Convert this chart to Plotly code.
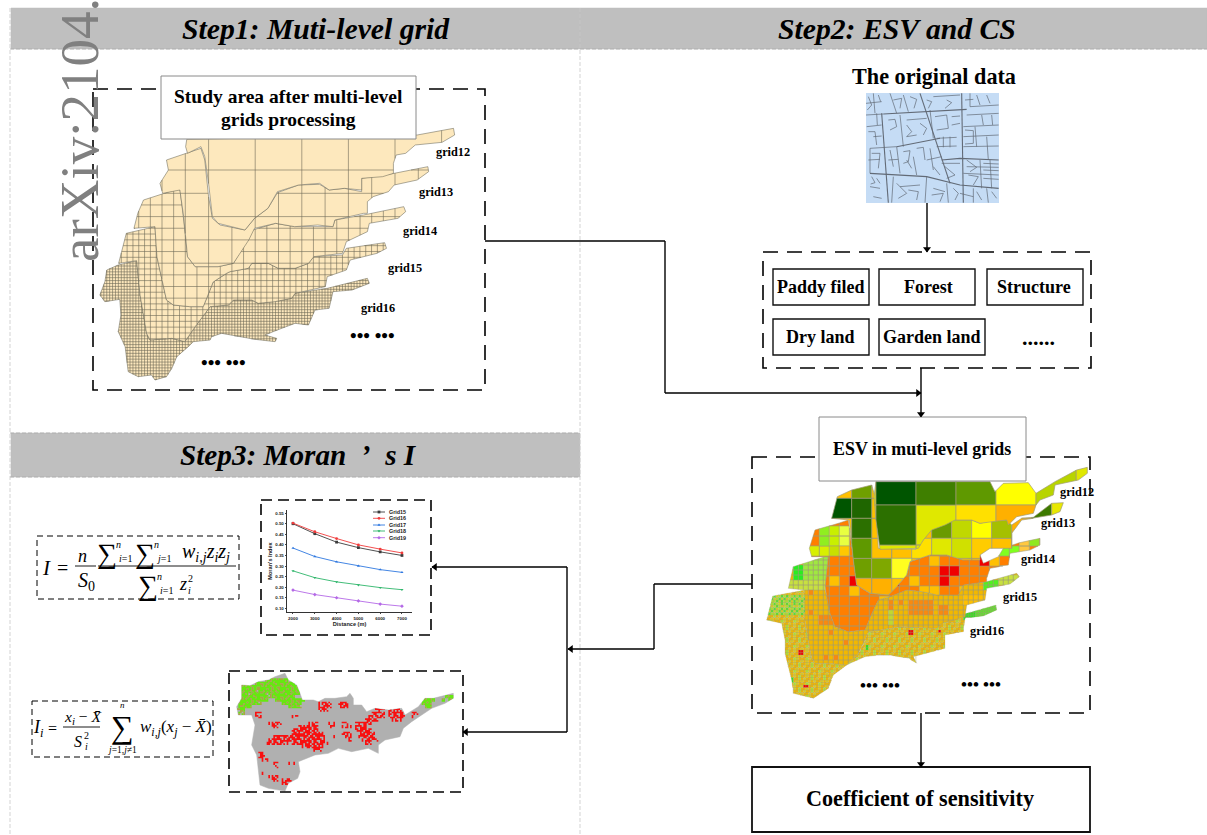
import plotly.graph_objects as go

# ---------- inset line chart data ----------
DISTANCE = [2000, 3000, 4000, 5000, 6000, 7000]
GRID15 = [0.500, 0.453, 0.413, 0.387, 0.367, 0.350]
GRID16 = [0.503, 0.462, 0.430, 0.400, 0.380, 0.362]
GRID17 = [0.385, 0.345, 0.320, 0.300, 0.283, 0.270]
GRID18 = [0.277, 0.245, 0.225, 0.210, 0.198, 0.188]
GRID19 = [0.186, 0.165, 0.150, 0.135, 0.120, 0.110]
SERIES_NAMES = ["Grid15", "Grid16", "Grid17", "Grid18", "Grid19"]
SERIES_VALUES = [GRID15, GRID16, GRID17, GRID18, GRID19]
SERIES_COLORS = ["#3c3c3c", "#f03c3c", "#2f78e0", "#2eb56a", "#b469e6"]
SERIES_SYMBOLS = ["square", "circle", "triangle-up", "triangle-down", "diamond"]
Y_TICKS = [0.10, 0.15, 0.20, 0.25, 0.30, 0.35, 0.40, 0.45, 0.50, 0.55]

W, H = 1207, 835
SERIF = "Liberation Serif"
SANS = "Liberation Sans"

# ---------- map 1 zones (outline, coarsest last) ----------
M1 = {
 12: [(488,418),(1090,405),(1185,385),(1188,405),(1155,427),(1085,435),(1060,460),(1035,465),(1028,490),(1028,520),(1000,530),(945,535),(945,570),(900,565),(860,570),(835,550),(780,555),(725,575),(700,625),(665,655),(640,690),(570,670),(555,650),(545,550),(535,470),(525,440),(490,460),(485,440)],
 13: [(435,480),(525,445),(535,480),(545,590),(555,655),(575,675),(640,690),(665,655),(700,625),(725,578),(780,555),(835,553),(860,570),(900,565),(945,575),(945,535),(1030,520),(1118,500),(1120,515),(1090,540),(1030,555),(1015,575),(975,590),(960,605),(960,640),(950,640),(875,660),(870,680),(830,675),(770,680),(720,670),(665,685),(650,720),(610,790),(570,800),(510,800),(490,770),(480,650),(470,570),(425,580),(418,550),(440,510)],
 14: [(375,600),(470,565),(480,660),(490,770),(510,800),(570,800),(610,790),(660,690),(720,670),(770,680),(870,680),(875,660),(950,645),(1055,620),(1060,635),(1040,655),(965,670),(960,695),(905,725),(895,760),(820,770),(806,790),(771,805),(727,805),(701,790),(658,790),(649,805),(601,815),(592,820),(557,846),(540,895),(531,920),(496,920),(453,915),(435,900),(427,855),(410,770),(405,680),(350,685),(360,640)],
 15: [(330,700),(405,680),(410,770),(427,855),(435,900),(453,915),(496,920),(531,920),(540,895),(557,846),(592,820),(601,815),(649,805),(658,790),(701,790),(727,805),(771,805),(806,790),(820,770),(895,765),(905,745),(1005,728),(1010,745),(985,760),(915,780),(905,810),(855,830),(850,860),(771,880),(762,895),(718,905),(675,910),(658,900),(610,900),(597,915),(549,920),(510,980),(483,1025),(449,1015),(392,1020),(383,1000),(366,885),(357,782),(310,790)],
 16: [(279,810),(309,795),(357,782),(366,885),(383,1000),(392,1020),(449,1015),(483,1025),(510,980),(549,920),(597,915),(610,900),(658,900),(675,910),(718,905),(762,895),(771,880),(855,865),(960,835),(965,850),(920,870),(870,875),(860,925),(823,930),(806,975),(771,970),(736,985),(692,1005),(723,1015),(719,1025),(666,1018),(623,1010),(579,1000),(553,1010),(549,1020),(505,1025),(492,1040),(462,1070),(449,1105),(435,1130),(405,1140),(396,1125),(361,1130),(335,1115),(327,1040),(309,995),(316,945),(313,898),(274,905),(261,885),(274,845)],
}
M1_PITCH = {12: 46.6, 13: 23.3, 14: 11.65, 15: 5.82, 16: 2.91}
M1_ANCHOR = (208.6, 170.0)

# ---------- map 2 zones ----------
M2 = {
 12: [(378,65),(720,65),(735,95),(760,70),(835,68),(858,100),(915,65),(980,30),(1012,22),(1012,40),(985,60),(915,75),(910,105),(870,120),(858,135),(850,160),(800,170),(775,195),(770,180),(725,185),(690,190),(665,180),(615,180),(585,195),(545,210),(520,240),(505,265),(390,268),(378,180),(372,110)],
 13: [(245,175),(262,110),(305,90),(365,75),(375,110),(385,265),(498,268),(520,240),(545,205),(610,180),(665,180),(690,190),(725,182),(770,180),(785,195),(815,175),(850,172),(905,130),(940,128),(930,155),(905,165),(850,175),(815,180),(785,220),(785,265),(720,265),(690,285),(690,300),(640,300),(590,285),(540,285),(480,305),(470,345),(440,380),(415,405),(360,400),(320,375),(310,300),(298,180)],
 14: [(195,210),(265,190),(295,180),(310,300),(320,375),(360,400),(415,405),(440,380),(470,345),(480,305),(540,285),(590,285),(640,300),(690,285),(700,310),(745,290),(760,265),(800,250),(870,235),(870,255),(840,270),(780,280),(775,315),(720,325),(710,355),(710,365),(640,375),(625,405),(560,405),(520,395),(470,390),(420,410),(385,420),(370,450),(345,510),(295,515),(255,500),(240,460),(225,385),(235,290),(185,290),(178,265)],
 15: [(115,385),(130,320),(225,290),(235,290),(225,385),(240,460),(255,500),(295,515),(345,510),(370,450),(385,420),(420,410),(470,390),(520,395),(560,405),(625,405),(640,375),(710,365),(800,340),(808,350),(780,372),(710,385),(705,420),(650,435),(645,470),(575,490),(560,505),(450,500),(390,510),(355,515),(345,540),(325,580),(290,615),(240,610),(195,610),(185,595),(165,485),(165,390)],
 16: [(50,480),(68,408),(165,390),(165,485),(185,595),(195,610),(240,610),(290,615),(325,580),(345,540),(355,515),(390,510),(450,500),(560,505),(580,475),(650,460),(738,435),(740,450),(700,468),(645,475),(640,515),(585,525),(585,565),(490,590),(500,610),(475,595),(415,585),(395,585),(345,590),(290,615),(250,645),(235,685),(190,715),(130,700),(125,660),(105,580),(105,540),(95,490)],
}
M2_GRID = {12: (120, 378, 135), 13: (60, 245, 115), 14: (30, 568, 318), 15: (15, 565, 390), 16: (7.5, 565, 390)}
M2_DEFAULT = {12: "#e0e800", 13: "#ffc000", 14: "#ff7f00", 15: "#f2b800", 16: "TILE_A"}
M2_STROKE = {12: 0.7, 13: 0.7, 14: 0.55, 15: 0.4, 16: 0.22}
TILE_A = ["oyoog", "yooyo", "oogyo", "yoyoo", "ooyog"]
TILE_B = ["gylgl", "lgyyg", "yglgl", "glyly", "lylgg"]
TILE_COLORS = {"o": "#f2b800", "y": "#dcd020", "g": "#b0e030", "l": "#58e030"}
ORANGE = "#f88a10"
M2_RULES = {
 12: [(378,60,498,135,"#005500"),(498,60,618,135,"#3f7f00"),(618,60,738,135,"#5f9900"),(738,60,860,135,"#ffff00"),
      (378,135,498,270,"#2c7000"),(498,135,618,270,"#e0e800"),(618,135,738,270,"#ffe000"),(738,135,860,200,"#ffb000"),
      (860,20,980,125,"#b8d400"),(980,20,1020,60,"#ffa500")],
 13: [(245,115,305,175,"#005500"),(305,60,365,115,"#6f9f00"),(305,115,365,175,"#1f6600"),(365,60,385,135,"#5f9900"),(365,135,380,190,"#ff4000"),
      (245,175,305,190,"#ff9000"),(305,175,365,240,"#2c7000"),(365,175,390,240,"#1f6600"),(305,240,365,305,"#5f9900"),(365,240,395,305,"#7aa800"),
      (305,305,365,380,"#6f9f00"),(365,305,425,380,"#7fa800"),(425,305,480,380,"#ffff20"),(320,375,420,410,"#ffb000"),
      (545,195,605,240,"#6a9a00"),(605,175,665,240,"#c0d800"),(665,175,725,240,"#ffff00"),(725,175,785,240,"#a5c000"),
      (505,240,545,290,"#ffe000"),(545,240,605,290,"#e0e800"),(605,240,665,290,"#d0e000"),(665,240,725,290,"#ffcc00"),(725,240,790,265,"#ffa020"),
      (785,175,850,225,"#ffb000"),(850,125,905,180,"#3d7a00"),(905,125,945,170,"#e8e800"),(395,268,500,305,"#ffc000")],
 14: [(195,205,235,250,"#90ee20"),(235,205,265,250,"#c8f000"),(265,185,300,250,"#e8ff40"),(175,250,235,292,"#d8f000"),(235,250,265,288,"#c8e000"),(265,250,300,292,"#ffc800"),
      (568,318,628,348,"#f00000"),(568,348,598,380,"#f00000"),(298,348,318,380,"#f00000"),(690,280,720,318,"#f00000"),(425,348,448,380,"#f00000"),
      (238,348,268,378,"#ffc000"),(478,348,508,378,"#ffc000"),(298,378,328,408,"#ffc000"),(628,378,650,405,"#ffc000"),(540,285,568,318,"#ffc000"),
      (388,408,418,450,"#ffc000"),(508,378,568,408,"#ffc000"),(718,285,748,318,"#ffc000"),
      (760,250,808,282,"#80ff20"),(808,240,838,282,"#ffc840"),(838,232,875,272,"#90e820")],
 15: [(130,310,160,365,"#28ee20"),(160,288,232,360,"#a0e840"),(110,360,232,392,"#c8e040"),
      (170,390,190,405,ORANGE),(415,420,430,450,ORANGE),(475,420,545,465,ORANGE),(445,420,460,435,ORANGE),(415,450,430,490,"#c0d830"),
      (175,450,190,465,ORANGE),(205,465,250,495,ORANGE),(235,515,250,530,ORANGE),(280,535,295,550,ORANGE),(220,585,235,600,ORANGE),(250,585,265,600,ORANGE),
      (560,440,600,460,ORANGE),(700,360,745,388,"#50f020"),(745,340,810,375,"#c8e040"),(640,400,710,440,"#ffc000")],
 16: [(50,405,165,465,"TILE_B"),(640,450,680,482,"#30e020"),(680,435,745,472,"#60e030"),(148,570,160,586,"#f00000"),(476,508,490,526,"#f00000"),
      (310,558,324,572,"#f00000"),(566,508,576,518,"#f00000"),(163,673,173,683,"#f00000"),(348,558,358,570,"#30e020"),(120,655,130,665,"#30e020")],
}

# ---------- map 3: outline and hand-read overlay cells (row, column, text) ----------
M3_OUTLINE = [(50,60),(75,62),(100,50),(130,45),(150,35),(180,25),(190,45),(215,60),(225,85),(232,105),(265,105),(280,110),(300,100),(330,100),(365,95),(375,85),(385,100),(385,120),(410,120),(425,140),(450,130),(490,135),(530,130),(540,150),(580,125),(600,100),(625,100),(685,85),(685,100),(660,115),(620,130),(590,150),(560,170),(535,190),(525,215),(480,225),(460,240),(460,265),(430,250),(380,260),(340,250),(310,265),(270,270),(220,290),(225,320),(218,340),(190,355),(180,378),(165,375),(130,370),(105,360),(100,320),(95,270),(80,240),(90,180),(80,150),(40,150),(35,125),(50,100)]
M3_CELLS = [(4,12,"ggggggg"),(5,9,"gggggggggggg"),(6,5,"ggggggggggggggggg"),(7,5,"ggggyggggggggggggg"),(8,5,"ggyggggygggggggggg"),(9,4,"gggggggggyggggggg"),(10,4,"ggggggggg"),(10,15,"ggggggggg"),(11,4,"ggggggy"),(11,17,"gggggg"),(12,4,"gggg"),(12,19,"gggy"),(13,3,"yyg"),(14,4,"yy"),
 (9,66,"ggg"),(10,59,"gggg"),(10,65,"g gg"),(11,59,"ggg"),(12,60,"gg"),
 (11,28,"prrp"),(12,28,"rrrp"),(13,28,"prp"),(11,34,"rrr"),(12,34,"prr"),(13,45,"prp"),(13,49,"rprp"),(14,44,"rrpr"),(14,49,"rrrrp"),(15,43,"rprrp"),(15,49,"prrrr"),(16,42,"rrrr"),(16,50,"prp"),(14,9,"rp"),(15,9,"pr"),(17,13,"prrp"),(18,14,"rp"),(15,20,"pp"),(14,56,"rp"),(15,56,"p"),
 (17,25,"prp"),(18,22,"rrrrrr"),(17,31,"pp"),(18,31,"pp"),(19,20,"rrrrrrrr"),(18,39,"rrrp"),(19,39,"rrrrr"),(17,39,"prrrr"),(17,35,"pp"),(18,35,"prp"),(20,20,"rrrrrrrrrp"),(20,35,"rrp"),(20,40,"prrrr"),(21,14,"prrrrr"),(21,20,"rrrrrrrrrr"),(21,32,"p"),(21,36,"rr"),(21,40,"rrrrr"),(22,13,"rrrrrrrrrrrrrrrrr"),(22,37,"r"),(22,41,"prrpp"),(23,12,"prrrrpp"),(23,20,"rrrrrrrrrrp"),(23,42,"rp"),(24,23,"prrrrrp"),(25,26,"ppp"),
 (26,10,"rp"),(27,10,"rr"),(28,11,"pr"),(29,14,"pp"),(30,15,"p"),(29,19,"pp"),(33,13,"prr"),(34,14,"rp"),(34,17,"prr"),(35,17,"rr"),(32,11,"p")]
# each overlay cell is four small squares; "." leaves the grey ground showing
M3_SUB = {"r": ["rrr.", "r.rr", "rr.r", ".rrr"], "p": ["r..r", ".r.r", "rr..", "r.r."], "g": ["gggy", "gygg", "ggyg", "yggg"], "y": ["yg.y", "y.gy", "gyy.", ".ygy"]}
M3_ORDER = [[2, 0, 3, 1, 1, 3], [0, 3, 1, 2, 0, 2], [3, 1, 2, 0, 2, 3], [1, 0, 3, 2, 3, 0]]
M3_COLORS = {"r": "#f81010", "g": "#66e810", "y": "#a8a840"}

# ---------- street map segments ----------
MAJOR_STREETS = 7
STREETS = [[(370,162),(620,148)],[(330,340),(500,350),(600,375),(716,385)],[(365,160),(385,428)],[(480,100),(545,300),(570,370)],[(605,100),(610,428)],
 [(545,300),(600,295),(716,300)],[(410,260),(540,235)],[(330,265),(410,260)],[(320,200),(365,195)],[(610,200),(716,195)],[(610,230),(716,225)],[(610,260),(716,258)],
 [(610,340),(716,345)],[(660,300),(665,385)],[(690,300),(695,385)],[(630,100),(630,140)],[(390,100),(410,160)],[(420,165),(430,260)],[(340,100),(345,160)],
 [(530,235),(590,232)],[(530,260),(590,258)],[(550,230),(550,262)],[(570,230),(570,262)],[(400,350),(395,428)],[(500,350),(495,428)],[(560,370),(565,428)],
 [(640,385),(640,428)],[(680,385),(685,428)],[(330,340),(330,265)],[(410,260),(420,340)],[(460,290),(470,345)],[(545,310),(600,310)],[(500,300),(545,290)],
 [(318,130),(365,125)],[(318,165),(370,162)],[(430,105),(445,155)],[(520,110),(600,105)],[(510,150),(520,235)],[(620,165),(716,160)],[(440,180),(500,175)],
 [(340,230),(365,228)],[(645,200),(650,260)],[(680,230),(685,300)],[(620,320),(716,322)],[(440,300),(455,325)],[(330,380),(360,385)],[(340,410),(365,415)],
 [(420,380),(480,375)],[(520,385),(555,395)],[(600,400),(640,410)],[(350,160),(352,195)],[(630,140),(716,135)],[(385,300),(415,298)],
 [(325,110),(335,135),(322,150)],[(355,105),(362,125)],[(400,120),(425,115),(420,145)],[(450,110),(470,118),(462,145)],[(500,120),(515,125),(505,145)],[(560,120),(575,128),(555,145)],
 [(385,180),(405,178),(410,200),(390,210)],[(440,195),(455,215),(440,230),(470,225)],[(480,190),(500,205),(490,225)],[(525,170),(560,165),(565,205),(530,210)],[(575,170),(600,168)],[(575,195),(600,190)],
 [(325,215),(345,215),(350,255)],[(335,280),(360,280),(355,325)],[(325,300),(360,298)],[(390,270),(400,320)],[(430,275),(450,272),(445,305),(430,310)],[(470,265),(490,262),(495,300)],[(510,265),(520,330)],
 [(520,320),(540,345)],[(555,320),(585,345),(560,355)],[(620,300),(650,322),(630,335)],[(625,345),(655,350),(640,375)],[(615,210),(640,212),(640,250),(615,252)],[(665,165),(670,195)],[(695,165),(698,195)],
 [(335,350),(345,368),(332,372)],[(350,355),(360,370)],[(410,370),(440,400),(415,415)],[(445,390),(475,395),(470,420)],[(515,405),(550,400),(540,425)],[(580,385),(595,400),(585,420)],[(650,395),(665,420)],[(695,395),(710,415)],
 [(670,310),(716,312)],[(670,330),(716,332)],[(670,355),(716,358)],[(615,120),(640,118)],[(650,105),(660,135)],[(680,105),(690,130)]]

TEXTS = [
 (316,29,"<b><i>Step1: Muti-level grid</i></b>",29.7),(897,29,"<b><i>Step2: ESV and CS</i></b>",29.7),(298,455,"<b><i>Step3: Moran \u00a0’\u00a0 s I</i></b>",29.2),
 (288,96,"<b>Study area after multi-level</b>",19.5),(288,119,"<b>grids processing</b>",19.5),
 (453,152,"<b>grid12</b>",12.3),(436,192,"<b>grid13</b>",12.3),(420,231,"<b>grid14</b>",12.3),(405,268,"<b>grid15</b>",12.3),(378,308,"<b>grid16</b>",12.3),
 (372,335,"<b>••• •••</b>",19),(223,362,"<b>••• •••</b>",19),
 (934,76,"<b>The original data</b>",22.2),
 (821,287,"<b>Paddy filed</b>",18),(928,287,"<b>Forest</b>",18),(1034,287,"<b>Structure</b>",18),(820,337,"<b>Dry land</b>",18),(932,337,"<b>Garden land</b>",18),(1038,337,"<b>......</b>",22),
 (922,449,"<b>ESV in muti-level grids</b>",17.9),(920,798,"<b>Coefficient of sensitivity</b>",22.2),
 (1077,492,"<b>grid12</b>",12.3),(1058,523,"<b>grid13</b>",12.3),(1038,559,"<b>grid14</b>",12.3),(1020,597,"<b>grid15</b>",12.3),(987,631,"<b>grid16</b>",12.3),
 (880,685,"<b>••• •••</b>",17),(981,684,"<b>••• •••</b>",17),
 # equation 1
 (46,568,"<i>I</i>",21),(62,568,"=",20),(82,556,"<i>n</i>",18),(86,581,"<i>S</i><sub>0</sub>",20),
 (107,553,"∑",28),(118,544,"<i>n</i>",10),(125,558,"<i>i</i>=1",10),(145,553,"∑",28),(156,544,"<i>n</i>",10),(163,558,"<i>j</i>=1",10),
 (206,552,"<i>w</i><sub><i>i,j</i></sub><i>z</i><sub><i>i</i></sub><i>z</i><sub><i>j</i></sub>",20),
 (148,585,"∑",28),(159,576,"<i>n</i>",10),(166,590,"<i>i</i>=1",10),(183,584,"<i>z</i>",18),(190,578,"2",10),(189,590,"<i>i</i>",10),
 # equation 2
 (38,728,"<i>I</i><sub><i>i</i></sub>",18),(52,728,"=",16),(82,717,"<i>x</i><sub><i>i</i></sub> − <i>X̄</i>",15.5),(78,741,"<i>S</i>",16),(86,735,"2",10),(86,746,"<i>i</i>",10),
 (122,727,"∑",32),(122,705,"<i>n</i>",9),(122,750,"<i>j</i>=1,<i>j</i>≠1",9.5),(176,728,"<i>w</i><sub><i>i,j</i></sub>(<i>x</i><sub><i>j</i></sub> − <i>X̄</i>)",17),
]


def clip_rect(poly, x0, y0, x1, y1):
    """Sutherland-Hodgman clip of a polygon to a rectangle."""
    out = list(poly)
    for inside, cross in (
        (lambda p: p[0] >= x0, lambda a, b: (x0, a[1] + (b[1]-a[1])*(x0-a[0])/(b[0]-a[0]))),
        (lambda p: p[0] <= x1, lambda a, b: (x1, a[1] + (b[1]-a[1])*(x1-a[0])/(b[0]-a[0]))),
        (lambda p: p[1] >= y0, lambda a, b: (a[0] + (b[0]-a[0])*(y0-a[1])/(b[1]-a[1]), y0)),
        (lambda p: p[1] <= y1, lambda a, b: (a[0] + (b[0]-a[0])*(y1-a[1])/(b[1]-a[1]), y1)),
    ):
        src, out = out, []
        for k, cur in enumerate(src):
            prev = src[k-1]
            if inside(cur):
                if not inside(prev):
                    out.append(cross(prev, cur))
                out.append(cur)
            elif inside(prev):
                out.append(cross(prev, cur))
        if not out:
            return []
    return out


def scan(poly, value, axis):
    """Segments of the line coordinate[axis]=value lying inside the polygon."""
    hits = []
    n = len(poly)
    for k in range(n):
        a, b = poly[k], poly[(k+1) % n]
        if (a[axis] <= value) != (b[axis] <= value):
            t = (value-a[axis])/(b[axis]-a[axis])
            hits.append(a[1-axis] + t*(b[1-axis]-a[1-axis]))
    hits.sort()
    return [(hits[k], hits[k+1]) for k in range(0, len(hits)-1, 2)]


fig = go.Figure()


def area(xs, ys, fill, line="rgba(0,0,0,0)", width=0.5):
    fig.add_trace(go.Scatter(x=xs, y=ys, mode="lines", fill="toself", fillcolor=fill,
                             line=dict(color=line, width=width), hoverinfo="skip", showlegend=False))


def closed(poly):
    return [p[0] for p in poly]+[poly[0][0]], [p[1] for p in poly]+[poly[0][1]]


shapes = []


def rect(x0, y0, x1, y1, fill="rgba(0,0,0,0)", line="#000", width=1, dash="solid", layer="above"):
    shapes.append(dict(type="rect", x0=x0, y0=y0, x1=x1, y1=y1, fillcolor=fill, layer=layer,
                       line=dict(color=line, width=width, dash=dash), xref="x", yref="y"))


def line(x0, y0, x1, y1, color="#000", width=1.4, dash="solid", layer="above"):
    shapes.append(dict(type="line", x0=x0, y0=y0, x1=x1, y1=y1, layer=layer,
                       line=dict(color=color, width=width, dash=dash), xref="x", yref="y"))


rect(11, 8, 580, 49, fill="#bfbfbf", line="#bfbfbf", width=0.5, layer="below")
rect(580, 8, 1207, 49, fill="#bfbfbf", line="#bfbfbf", width=0.5, layer="below")
rect(11, 433, 580, 477, fill="#bfbfbf", line="#bfbfbf", width=0.5, layer="below")
LIGHT = "4px,2px"
line(10, 8, 10, 835, "#c8c8c8", 0.8, LIGHT, "below")
line(580, 8, 580, 835, "#c8c8c8", 0.8, LIGHT, "below")
line(10, 49, 1207, 49, "#aaaaaa", 0.8, LIGHT, "below")
line(10, 433, 580, 433, "#aaaaaa", 0.8, LIGHT, "below")
line(10, 477, 580, 477, "#aaaaaa", 0.8, LIGHT, "below")

# ---------- map 1 ----------
for z in (16, 15, 14, 13, 12):
    poly = [(x/2.613, y/3.0) for x, y in M1[z]]
    xs, ys = closed(poly)
    area(xs, ys, "#fde8bd", "#5b5b4c", 0.5)
    p = M1_PITCH[z]
    gx, gy = [], []
    for k in range(int((min(xs)-M1_ANCHOR[0])/p)-1, int((max(xs)-M1_ANCHOR[0])/p)+2):
        v = M1_ANCHOR[0]+k*p
        for a, b in scan(poly, v, 0):
            gx += [v, v, None]
            gy += [a, b, None]
    for k in range(int((min(ys)-M1_ANCHOR[1])/p)-1, int((max(ys)-M1_ANCHOR[1])/p)+2):
        v = M1_ANCHOR[1]+k*p
        for a, b in scan(poly, v, 1):
            gx += [a, b, None]
            gy += [v, v, None]
    fig.add_trace(go.Scatter(x=gx, y=gy, mode="lines", line=dict(color="#6e6a58", width=0.6),
                             hoverinfo="skip", showlegend=False))

# ---------- map 2 ----------
for z in (16, 15, 14, 13, 12):
    poly = M2[z]
    pitch, ax0, ay0 = M2_GRID[z]
    groups = {}
    X = [p[0] for p in poly]
    Y = [p[1] for p in poly]
    for i in range(int((min(X)-ax0)//pitch)-1, int((max(X)-ax0)//pitch)+2):
        for j in range(int((min(Y)-ay0)//pitch)-1, int((max(Y)-ay0)//pitch)+2):
            x0, y0 = ax0+i*pitch, ay0+j*pitch
            piece = clip_rect(poly, x0, y0, x0+pitch, y0+pitch)
            if len(piece) < 3:
                continue
            cx, cy = x0+pitch/2, y0+pitch/2
            col = M2_DEFAULT[z]
            for r in M2_RULES[z]:
                if r[0] <= cx < r[2] and r[1] <= cy < r[3]:
                    col = r[4]
            if col.startswith("TILE"):
                t = TILE_A if col == "TILE_A" else TILE_B
                col = TILE_COLORS[t[j % 5][i % 5]]
            g = groups.setdefault(col, ([], []))
            g[0].extend([750+q[0]/3 for q in piece]+[750+piece[0][0]/3, None])
            g[1].extend([460+q[1]/3 for q in piece]+[460+piece[0][1]/3, None])
    for col, (xs, ys) in groups.items():
        area(xs, ys, col, "#a09c78", M2_STROKE[z])

# ---------- map 3 ----------
xs, ys = closed([(225+x/3, 665+y/3) for x, y in M3_OUTLINE])
area(xs, ys, "#b0b0b0", "#b0b0b0", 0.5)
m3 = {}
for row, col, text in M3_CELLS:
    for k, ch in enumerate(text):
        if ch not in M3_SUB:
            continue
        pat = M3_SUB[ch][M3_ORDER[row % 4][(col+k) % 6]]
        for q, sub in enumerate(pat):
            if sub == ".":
                continue
            x0 = (col+k)*10+(q % 2)*5
            y0 = row*10+(q//2)*5
            piece = clip_rect(M3_OUTLINE, x0, y0, x0+5, y0+5)
            if len(piece) < 3:
                continue
            g = m3.setdefault(sub, ([], []))
            g[0].extend([225+v[0]/3 for v in piece]+[225+piece[0][0]/3, None])
            g[1].extend([665+v[1]/3 for v in piece]+[665+piece[0][1]/3, None])
for sub, (xs, ys) in m3.items():
    area(xs, ys, M3_COLORS[sub])

# ---------- street map ----------
rect(866, 93, 999, 203, fill="#c5dcf5", line="#c5dcf5", width=0, layer="below")
for part, wd in ((STREETS[:MAJOR_STREETS], 1.1), (STREETS[MAJOR_STREETS:], 0.7)):
    sx, sy = [], []
    for seg in part:
        sx += [760+p[0]/3 for p in seg]+[None]
        sy += [60+p[1]/3 for p in seg]+[None]
    fig.add_trace(go.Scatter(x=sx, y=sy, mode="lines", line=dict(color="#626a76", width=wd), hoverinfo="skip", showlegend=False))

# ---------- boxes ----------
DASH = "15px,9px"
rect(93, 89, 485, 390, width=1.6, dash=DASH)
rect(763, 252, 1091, 368, width=1.6, dash=DASH)
rect(752, 457, 1090, 713, width=1.6, dash=DASH)
rect(261, 500, 431, 635, width=1.6, dash="11px,6px")
rect(229, 671, 463, 792, width=1.6, dash="11px,6px")
rect(37, 536, 239, 599, width=1, dash="6px,4px")
rect(32, 701, 213, 757, width=1, dash="6px,4px")
rect(161, 76, 416, 139, fill="#fff", line="#8a8a8a", width=1)
rect(819, 417, 1026, 481, fill="#fff", line="#8a8a8a", width=1)
for b in [(773, 269, 869, 305), (879, 269, 975, 305), (987, 269, 1083, 305), (773, 319, 869, 355), (879, 319, 985, 355)]:
    rect(*b, fill="#fff", line="#111", width=1.4)
rect(752, 767, 1090, 832, fill="#fff", line="#111", width=1.8)

# fraction bars
line(75, 566, 96, 566, width=0.9)
line(98, 566, 236, 566, width=0.9)
line(63, 727, 100, 727, width=0.9)

# connector lines
line(485, 241, 665, 241)
line(665, 241, 665, 393)
line(752, 584, 654, 584)
line(654, 584, 654, 649)
line(567, 567, 567, 732)

# straight arrows: a line and a triangular head
ARROWS = [(927, 203, 927, 252, "triangle-down"), (665, 393, 921, 393, "triangle-right"), (921, 368, 921, 417, "triangle-down"),
          (921, 713, 921, 767, "triangle-down"), (654, 649, 568, 649, "triangle-left"), (567, 567, 432, 567, "triangle-left"),
          (567, 732, 463, 732, "triangle-left")]
for x0, y0, x1, y1, sym in ARROWS:
    line(x0, y0, x1, y1)
    dx = (x1 > x0)-(x1 < x0)
    dy = (y1 > y0)-(y1 < y0)
    fig.add_trace(go.Scatter(x=[x1-dx*3], y=[y1-dy*3], mode="markers", marker=dict(symbol=sym, size=7, color="#000"),
                             hoverinfo="skip", showlegend=False))

annotations = []
for x, y, t, s in TEXTS:
    annotations.append(dict(x=x, y=y, xref="x", yref="y", text=t, showarrow=False, xanchor="center", yanchor="middle",
                            font=dict(family=SERIF, size=s, color="#000")))

# arXiv stamp
annotations.append(dict(x=79, y=264, xref="x", yref="y", text="arXiv:2104.0", showarrow=False, textangle=-90,
                        xanchor="center", yanchor="bottom", font=dict(family=SERIF, size=55, color="#808080")))

# ---------- inset chart ----------
for name, vals, c, sym in zip(SERIES_NAMES, SERIES_VALUES, SERIES_COLORS, SERIES_SYMBOLS):
    fig.add_trace(go.Scatter(x=DISTANCE, y=vals, name=name, mode="lines+markers", xaxis="x2", yaxis="y2",
                             line=dict(color=c, width=0.9), marker=dict(symbol=sym, size=2.8, color=c),
                             showlegend=False, hovertemplate=name+" %{x}: %{y}<extra></extra>"))

# hand-placed legend for the inset
LEG_Y = [512, 518.3, 525, 531, 537.7]
for name, c, sym, ly in zip(SERIES_NAMES, SERIES_COLORS, SERIES_SYMBOLS, LEG_Y):
    fig.add_trace(go.Scatter(x=[373, 379, 385], y=[ly]*3, mode="lines", line=dict(color=c, width=0.9),
                             hoverinfo="skip", showlegend=False))
    fig.add_trace(go.Scatter(x=[379], y=[ly], mode="markers", marker=dict(symbol=sym, size=2.8, color=c),
                             hoverinfo="skip", showlegend=False))
    annotations.append(dict(x=387, y=ly, xref="x", yref="y", text="<b>"+name+"</b>", showarrow=False, xanchor="left",
                            yanchor="middle", font=dict(family=SANS, size=5.4, color="#222")))

AX_FONT = dict(family=SANS, size=4.4, color="#222", weight="bold")
fig.update_layout(
    width=W, height=H, margin=dict(l=0, r=0, t=0, b=0), paper_bgcolor="#fff", plot_bgcolor="rgba(0,0,0,0)",
    showlegend=False, shapes=shapes, annotations=annotations,
    xaxis=dict(range=[0, W], visible=False, domain=[0, 1], fixedrange=True),
    yaxis=dict(range=[H, 0], visible=False, domain=[0, 1], fixedrange=True),
    xaxis2=dict(domain=[287/W, 412/W], anchor="y2", range=[1725, 7460], tickvals=DISTANCE, ticks="outside", ticklen=1.5,
                tickwidth=0.5, showgrid=False, zeroline=False, showline=True, linecolor="#333", linewidth=0.6,
                tickfont=AX_FONT,
                title=dict(text="<b>Distance (m)</b>", font=dict(family=SANS, size=5.6, color="#222"), standoff=2)),
    yaxis2=dict(domain=[1-612/H, 1-510/H], anchor="x2", range=[0.0825, 0.565], tickvals=Y_TICKS, tickformat=".2f", ticks="outside",
                ticklen=1.5, tickwidth=0.5, showgrid=False, zeroline=False, showline=True, linecolor="#333", linewidth=0.6,
                tickfont=AX_FONT,
                title=dict(text="<b>Moran's Index</b>", font=dict(family=SANS, size=5.6, color="#222"), standoff=2)),
)

fig.write_html("out.html", config=dict(displayModeBar=False),
               post_script="document.body.style.margin='0';document.documentElement.style.overflow='hidden';")
